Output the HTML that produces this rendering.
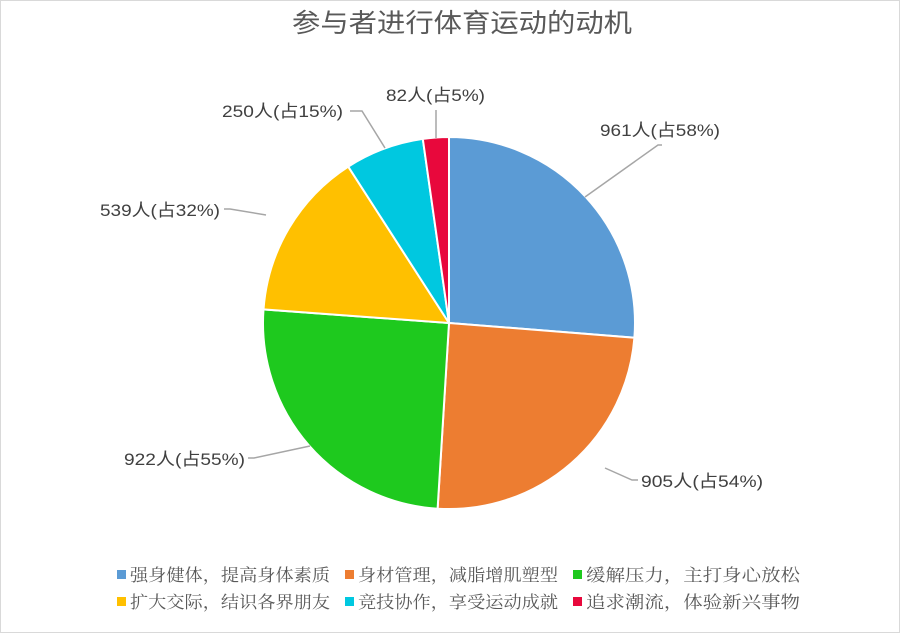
<!DOCTYPE html>
<html><head><meta charset="utf-8"><style>
html,body{margin:0;padding:0;background:#fff}
svg{display:block}
.l{font-family:"Liberation Sans","Noto Sans CJK SC",sans-serif;font-size:17px;fill:#404040}
.g{font-family:"Liberation Serif","Noto Serif CJK SC",serif;font-size:17px;fill:#595959}
</style></head><body>
<svg width="900" height="633" viewBox="0 0 900 633" xmlns="http://www.w3.org/2000/svg">
<rect x="0.5" y="0.5" width="899" height="632" fill="#fff" stroke="#d9d9d9"/>
<text x="292" y="32" textLength="340" lengthAdjust="spacingAndGlyphs" font-family="'Liberation Sans','Noto Sans CJK SC',sans-serif" font-size="26" fill="#595959">参与者进行体育运动的动机</text>
<g stroke="#fff" stroke-width="2">
<path d="M449,323 L449,137 A186,186 0 0 1 634.4,337.7 Z" fill="#5b9bd5"/>
<path d="M449,323 L634.4,337.7 A186,186 0 0 1 437.6,508.7 Z" fill="#ed7d31"/>
<path d="M449,323 L437.6,508.7 A186,186 0 0 1 263.5,309.4 Z" fill="#1ec91e"/>
<path d="M449,323 L263.5,309.4 A186,186 0 0 1 348.2,166.6 Z" fill="#ffc000"/>
<path d="M449,323 L348.2,166.6 A186,186 0 0 1 422.8,138.9 Z" fill="#00c8e0"/>
<path d="M449,323 L422.8,138.9 A186,186 0 0 1 449,137 Z" fill="#e8083c"/>
</g>
<g stroke="#a6a6a6" stroke-width="1.5" fill="none">
<polyline points="585,197 658,145 662,145"/>
<polyline points="605,468 632,480 638,480"/>
<polyline points="310,446 254,458 248,458"/>
<polyline points="266,215 230,209 224,209"/>
<polyline points="385,148 362,111 350,111"/>
<polyline points="436,138 436,110"/>
</g>
<text class="l" x="600" y="136" textLength="120" lengthAdjust="spacingAndGlyphs">961人(占58%)</text>
<text class="l" x="641" y="487" textLength="122" lengthAdjust="spacingAndGlyphs">905人(占54%)</text>
<text class="l" x="124" y="465" textLength="121" lengthAdjust="spacingAndGlyphs">922人(占55%)</text>
<text class="l" x="100" y="216" textLength="120" lengthAdjust="spacingAndGlyphs">539人(占32%)</text>
<text class="l" x="222" y="117" textLength="121" lengthAdjust="spacingAndGlyphs">250人(占15%)</text>
<text class="l" x="386" y="101" textLength="99" lengthAdjust="spacingAndGlyphs">82人(占5%)</text>
<rect x="117" y="570" width="9" height="9" fill="#5b9bd5"/>
<text class="g" x="130" y="581" textLength="200" lengthAdjust="spacingAndGlyphs">强身健体，提高身体素质</text>
<rect x="345" y="570" width="9" height="9" fill="#ed7d31"/>
<text class="g" x="358" y="581" textLength="200" lengthAdjust="spacingAndGlyphs">身材管理，减脂增肌塑型</text>
<rect x="573" y="570" width="9" height="9" fill="#1ec91e"/>
<text class="g" x="586" y="581" textLength="214" lengthAdjust="spacingAndGlyphs">缓解压力，主打身心放松</text>
<rect x="117" y="597" width="9" height="9" fill="#ffc000"/>
<text class="g" x="130" y="608" textLength="200" lengthAdjust="spacingAndGlyphs">扩大交际，结识各界朋友</text>
<rect x="345" y="597" width="9" height="9" fill="#00c8e0"/>
<text class="g" x="358" y="608" textLength="200" lengthAdjust="spacingAndGlyphs">竞技协作，享受运动成就</text>
<rect x="573" y="597" width="9" height="9" fill="#e8083c"/>
<text class="g" x="586" y="608" textLength="214" lengthAdjust="spacingAndGlyphs">追求潮流，体验新兴事物</text>
</svg>
</body></html>
